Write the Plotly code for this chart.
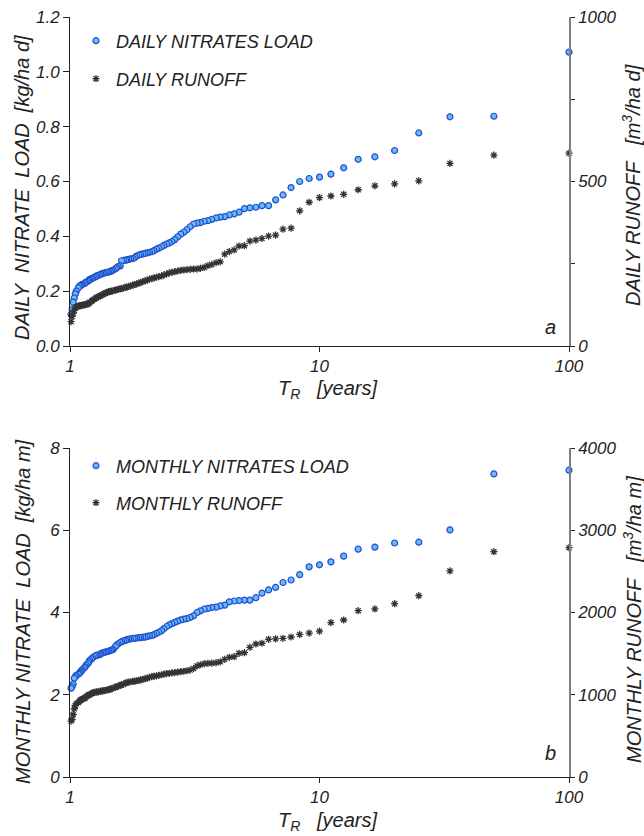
import plotly.graph_objects as go

# Return period (years) for ranks 1..99
TR_YEARS = [100, 50, 33.33, 25, 20, 16.67, 14.29, 12.5, 11.11, 10,
            9.09, 8.33, 7.69, 7.14, 6.67, 6.25, 5.88, 5.56, 5.26, 5,
            4.76, 4.55, 4.35, 4.17, 4, 3.85, 3.7, 3.57, 3.45, 3.33,
            3.23, 3.13, 3.03, 2.94, 2.86, 2.78, 2.7, 2.63, 2.56, 2.5,
            2.44, 2.38, 2.33, 2.27, 2.22, 2.17, 2.13, 2.08, 2.04, 2,
            1.96, 1.92, 1.89, 1.85, 1.82, 1.79, 1.75, 1.72, 1.69, 1.67,
            1.64, 1.61, 1.59, 1.56, 1.54, 1.52, 1.49, 1.47, 1.45, 1.43,
            1.41, 1.39, 1.37, 1.35, 1.33, 1.32, 1.3, 1.28, 1.27, 1.25,
            1.23, 1.22, 1.2, 1.19, 1.18, 1.16, 1.15, 1.14, 1.12, 1.11,
            1.1, 1.09, 1.08, 1.06, 1.05, 1.04, 1.03, 1.02, 1.01]

DAILY_NITRATE = [1.072, 0.838, 0.836, 0.777, 0.713, 0.690, 0.681, 0.650, 0.627, 0.616,
                 0.611, 0.600, 0.578, 0.551, 0.533, 0.512, 0.512, 0.506, 0.504, 0.501,
                 0.488, 0.482, 0.478, 0.472, 0.470, 0.467, 0.462, 0.457, 0.455, 0.450,
                 0.448, 0.445, 0.435, 0.424, 0.415, 0.408, 0.398, 0.388, 0.381, 0.376,
                 0.372, 0.367, 0.362, 0.357, 0.353, 0.348, 0.344, 0.342, 0.340, 0.338,
                 0.336, 0.334, 0.332, 0.328, 0.323, 0.319, 0.318, 0.316, 0.314, 0.313,
                 0.312, 0.311, 0.292, 0.290, 0.286, 0.281, 0.277, 0.274, 0.272, 0.270,
                 0.269, 0.268, 0.266, 0.264, 0.262, 0.260, 0.258, 0.256, 0.253, 0.250,
                 0.248, 0.245, 0.243, 0.240, 0.236, 0.233, 0.230, 0.227, 0.225, 0.222,
                 0.220, 0.218, 0.212, 0.200, 0.190, 0.175, 0.160, 0.135, 0.115]

DAILY_RUNOFF = [586, 580, 555, 502, 493, 487, 475, 461, 456, 451,
                437, 411, 358, 355, 337, 334, 327, 322, 319, 305,
                304, 292, 287, 279, 256, 253, 248, 244, 239, 236,
                234, 234, 233, 232, 231, 230, 228, 226, 224, 222,
                219, 216, 213, 211, 209, 207, 205, 203, 200, 198,
                196, 193, 191, 189, 187, 185, 183, 181, 179, 178,
                176, 175, 174, 172, 171, 170, 168, 167, 166, 165,
                163, 161, 159, 156, 154, 152, 150, 148, 145, 142,
                139, 136, 133, 129, 128, 127, 126, 125, 124, 123,
                123, 122, 121, 119, 115, 108, 100, 90, 74]

MONTHLY_NITRATE = [7.46, 7.37, 6.01, 5.71, 5.69, 5.59, 5.54, 5.37, 5.23, 5.16,
                   5.11, 4.92, 4.79, 4.73, 4.61, 4.55, 4.47, 4.36, 4.30, 4.30,
                   4.29, 4.28, 4.26, 4.18, 4.16, 4.13, 4.12, 4.10, 4.08, 4.04,
                   4.00, 3.92, 3.88, 3.85, 3.84, 3.82, 3.79, 3.76, 3.73, 3.70,
                   3.66, 3.61, 3.56, 3.52, 3.49, 3.46, 3.44, 3.43, 3.42, 3.40,
                   3.40, 3.39, 3.39, 3.38, 3.37, 3.37, 3.36, 3.35, 3.34, 3.32,
                   3.31, 3.29, 3.27, 3.24, 3.21, 3.17, 3.10, 3.09, 3.07, 3.06,
                   3.05, 3.04, 3.03, 3.02, 3.00, 2.98, 2.97, 2.96, 2.95, 2.93,
                   2.90, 2.87, 2.84, 2.80, 2.76, 2.72, 2.68, 2.65, 2.61, 2.58,
                   2.55, 2.52, 2.50, 2.47, 2.44, 2.40, 2.26, 2.20, 2.16]

MONTHLY_RUNOFF = [2788, 2739, 2505, 2204, 2107, 2043, 2022, 1909, 1878, 1773,
                  1750, 1733, 1702, 1686, 1680, 1674, 1626, 1617, 1577, 1511,
                  1504, 1463, 1455, 1431, 1400, 1390, 1384, 1382, 1378, 1365,
                  1350, 1320, 1300, 1292, 1286, 1280, 1276, 1270, 1265, 1261,
                  1257, 1250, 1244, 1236, 1230, 1225, 1220, 1212, 1202, 1195,
                  1188, 1182, 1175, 1170, 1166, 1162, 1158, 1154, 1150, 1140,
                  1130, 1120, 1115, 1106, 1097, 1090, 1082, 1075, 1068, 1062,
                  1058, 1055, 1051, 1047, 1043, 1040, 1036, 1034, 1032, 1030,
                  1022, 1012, 1002, 996, 990, 980, 962, 955, 948, 940,
                  934, 920, 905, 890, 870, 830, 760, 700, 680]

X_TICKS = [1, 10, 100]
X_TICK_TEXT = ["1", "10", "100"]

W, H = 644, 836
FONT = "Liberation Sans, Arial, sans-serif"
TXT = "#222222"
SP = "\u00a0"

def px_x(p):
    return p / W

def px_y(p):
    return 1 - p / H

x_dom = [px_x(70), px_x(569)]
top_dom = [px_y(346), px_y(17)]
bot_dom = [px_y(777), px_y(448)]

circle = dict(symbol="circle", size=6, color="#6ab8f7",
              line=dict(color="#1f4fcf", width=1.2))
star = dict(symbol="asterisk-open", size=6, color="#333333",
            line=dict(color="#333333", width=1.3))

fig = go.Figure()
fig.add_trace(go.Scatter(x=TR_YEARS, y=DAILY_NITRATE, mode="markers", marker=circle,
                         name="DAILY NITRATES LOAD", xaxis="x", yaxis="y",
                         legend="legend", cliponaxis=False))
fig.add_trace(go.Scatter(x=TR_YEARS, y=DAILY_RUNOFF, mode="markers", marker=star,
                         name="DAILY RUNOFF", xaxis="x", yaxis="y2",
                         legend="legend2", cliponaxis=False))
fig.add_trace(go.Scatter(x=TR_YEARS, y=MONTHLY_NITRATE, mode="markers", marker=circle,
                         name="MONTHLY NITRATES LOAD", xaxis="x2", yaxis="y3",
                         legend="legend3", cliponaxis=False))
fig.add_trace(go.Scatter(x=TR_YEARS, y=MONTHLY_RUNOFF, mode="markers", marker=star,
                         name="MONTHLY RUNOFF", xaxis="x2", yaxis="y4",
                         legend="legend4", cliponaxis=False))

tickfont = dict(family=FONT, size=17, color=TXT, style="italic")
common_x = dict(type="log", range=[0, 2], tickvals=X_TICKS, ticktext=X_TICK_TEXT,
                ticks="outside", ticklen=5, tickcolor="#222", showline=True,
                linecolor="#222", linewidth=1, showgrid=False, zeroline=False,
                tickfont=tickfont, domain=x_dom, automargin=False)
left_y = dict(ticks="outside", ticklen=6, tickcolor="#222", showline=True,
              linecolor="#222", linewidth=1, showgrid=False, zeroline=False,
              tickfont=tickfont, automargin=False)
right_y = dict(ticks="outside", ticklen=4, tickcolor="#222", showline=True,
               linecolor="#808080", linewidth=1.5, showgrid=False, zeroline=False,
               tickfont=tickfont, side="right", automargin=False)
# companion axes giving the inward half of the crossing ticks on the right axes
right_in = dict(ticks="inside", ticklen=4, tickcolor="#222", showline=False,
                showgrid=False, zeroline=False, showticklabels=False,
                side="right", automargin=False)

legfont = dict(family=FONT, size=18, color=TXT, style="italic")

def leg(xp, yp):
    return dict(x=px_x(xp), y=px_y(yp), xanchor="left", yanchor="middle",
                bgcolor="rgba(0,0,0,0)", borderwidth=0, font=legfont)

fig.update_layout(
    template="none",
    width=W, height=H, margin=dict(l=0, r=0, t=0, b=0, pad=0, autoexpand=False),
    paper_bgcolor="white", plot_bgcolor="white",
    xaxis=dict(common_x, anchor="y"),
    xaxis2=dict(common_x, anchor="y3"),
    yaxis=dict(left_y, domain=top_dom, anchor="x", range=[0, 1.2], dtick=0.2,
               tickformat=".1f"),
    yaxis2=dict(right_y, overlaying="y", anchor="x", range=[0, 1000], dtick=500,
                minor=dict(dtick=250, ticks="outside", ticklen=4, tickcolor="#222",
                           showgrid=False)),
    yaxis3=dict(left_y, domain=bot_dom, anchor="x2", range=[0, 8], dtick=2),
    yaxis4=dict(right_y, overlaying="y3", anchor="x2", range=[0, 4000], dtick=1000),
    yaxis5=dict(right_in, overlaying="y", anchor="x", range=[0, 1000], dtick=250),
    yaxis6=dict(right_in, overlaying="y3", anchor="x2", range=[0, 4000], dtick=1000),
    legend=leg(76, 41),
    legend2=leg(76, 79),
    legend3=leg(76, 466),
    legend4=leg(76, 503),
    showlegend=True,
)

afont = dict(family=FONT, size=20, color=TXT)
ann = [
    dict(text=f"<i>DAILY{SP*2}NITRATE{SP*2}LOAD{SP*2}[kg/ha d]</i>", x=px_x(22), y=px_y(188), textangle=-90),
    dict(text=f"<i>DAILY RUNOFF{SP*3}[m<sup>3</sup>/ha d]</i>", x=px_x(632), y=px_y(185), textangle=-90),
    dict(text=f"<i>T<sub>R</sub>{SP*3}[years]</i>", x=px_x(327), y=px_y(390), textangle=0),
    dict(text="<i>a</i>", x=px_x(550), y=px_y(327), textangle=0),
    dict(text=f"<i>MONTHLY NITRATE{SP*2}LOAD{SP*2}[kg/ha m]</i>", x=px_x(23), y=px_y(612), textangle=-90),
    dict(text=f"<i>MONTHLY RUNOFF{SP*3}[m<sup>3</sup>/ha m]</i>", x=px_x(632), y=px_y(620), textangle=-90),
    dict(text=f"<i>T<sub>R</sub>{SP*3}[years]</i>", x=px_x(327), y=px_y(821), textangle=0),
    dict(text="<i>b</i>", x=px_x(550), y=px_y(753), textangle=0),
]
for a in ann:
    fig.add_annotation(xref="paper", yref="paper", showarrow=False,
                       xanchor="center", yanchor="middle", font=afont, **a)

fig.write_html("out.html")
